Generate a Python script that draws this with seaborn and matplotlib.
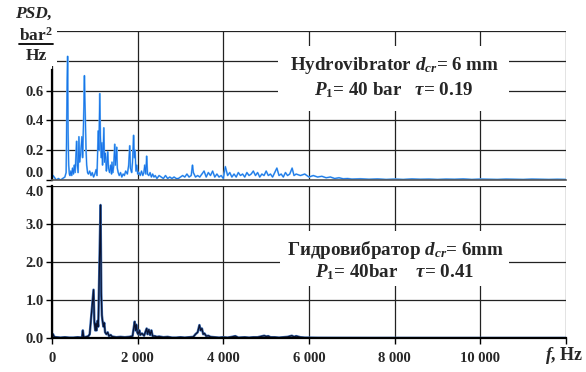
import matplotlib
matplotlib.use("Agg")
import matplotlib.pyplot as plt
import seaborn as sns
import pandas as pd
from matplotlib.lines import Line2D
from matplotlib.patches import Rectangle

# ---------------- data (frequency Hz, PSD bar^2/Hz) ----------------
top_points = [
    (0, 0.01), (25, 0.03), (50, 0.02), (75, 0.01), (100, 0.0), (150, 0.01), (200, 0.0),
    (250, 0.01), (300, 0.02), (330, 0.05), (355, 0.67), (365, 0.83), (375, 0.32), (390, 0.1),
    (405, 0.04), (420, 0.03), (440, 0.06), (460, 0.03), (480, 0.08), (500, 0.04), (520, 0.1),
    (540, 0.05), (575, 0.26), (590, 0.1), (610, 0.05), (628, 0.29), (645, 0.12), (670, 0.18),
    (698, 0.29), (715, 0.15), (745, 0.49), (757, 0.7), (768, 0.53), (780, 0.4), (795, 0.2),
    (810, 0.1), (830, 0.05), (850, 0.04), (880, 0.06), (910, 0.03), (940, 0.05), (970, 0.02),
    (1000, 0.04), (1030, 0.07), (1050, 0.03), (1080, 0.33), (1095, 0.2), (1115, 0.58),
    (1130, 0.3), (1150, 0.15), (1165, 0.25), (1180, 0.1), (1195, 0.2), (1210, 0.35),
    (1225, 0.12), (1240, 0.18), (1255, 0.15), (1270, 0.06), (1285, 0.1), (1300, 0.19),
    (1320, 0.08), (1345, 0.05), (1370, 0.1), (1390, 0.04), (1400, 0.12), (1420, 0.05),
    (1440, 0.09), (1465, 0.24), (1480, 0.1), (1495, 0.14), (1510, 0.22), (1525, 0.08),
    (1545, 0.05), (1570, 0.03), (1600, 0.05), (1630, 0.02), (1660, 0.04), (1690, 0.03),
    (1720, 0.06), (1760, 0.04), (1790, 0.1), (1815, 0.23), (1830, 0.08), (1860, 0.05),
    (1880, 0.12), (1905, 0.3), (1920, 0.15), (1940, 0.2), (1960, 0.06), (1980, 0.1),
    (2000, 0.04), (2030, 0.05), (2060, 0.03), (2090, 0.06), (2120, 0.03), (2145, 0.05),
    (2165, 0.1), (2190, 0.04), (2210, 0.16), (2230, 0.04), (2260, 0.03), (2290, 0.05),
    (2320, 0.02), (2350, 0.04), (2380, 0.02), (2410, 0.03), (2450, 0.01), (2500, 0.03),
    (2550, 0.02), (2600, 0.01), (2650, 0.03), (2700, 0.01), (2750, 0.02), (2800, 0.01),
    (2850, 0.02), (2900, 0.01), (2950, 0.01), (3000, 0.02), (3050, 0.03), (3100, 0.02),
    (3150, 0.04), (3200, 0.02), (3250, 0.03), (3280, 0.1), (3300, 0.05), (3350, 0.02),
    (3400, 0.03), (3450, 0.02), (3500, 0.04), (3550, 0.06), (3600, 0.02), (3650, 0.05),
    (3700, 0.03), (3750, 0.06), (3800, 0.02), (3850, 0.04), (3900, 0.02), (3950, 0.03),
    (4000, 0.01), (4047, 0.09), (4100, 0.03), (4150, 0.05), (4200, 0.02), (4250, 0.04),
    (4300, 0.02), (4350, 0.05), (4400, 0.03), (4450, 0.04), (4500, 0.02), (4550, 0.05),
    (4600, 0.03), (4650, 0.04), (4700, 0.06), (4750, 0.03), (4800, 0.05), (4850, 0.02),
    (4900, 0.04), (4950, 0.03), (5000, 0.06), (5050, 0.03), (5100, 0.04), (5150, 0.02),
    (5200, 0.05), (5250, 0.08), (5300, 0.03), (5350, 0.04), (5400, 0.02), (5450, 0.05),
    (5500, 0.03), (5550, 0.04), (5606, 0.08), (5650, 0.03), (5700, 0.04), (5800, 0.03),
    (5900, 0.04), (6000, 0.02), (6100, 0.03), (6200, 0.02), (6300, 0.025), (6400, 0.015),
    (6500, 0.02), (6600, 0.01), (6700, 0.015), (6800, 0.008), (6900, 0.01), (7000, 0.006),
    (7200, 0.008), (7400, 0.005), (7600, 0.007), (7800, 0.004), (8000, 0.006), (8200, 0.004),
    (8400, 0.007), (8600, 0.005), (8800, 0.006), (9000, 0.004), (9200, 0.006), (9400, 0.005),
    (9600, 0.007), (9800, 0.004), (10000, 0.006), (10200, 0.005), (10400, 0.004),
    (10600, 0.006), (10800, 0.005), (11000, 0.004), (11200, 0.006), (11400, 0.005),
    (11600, 0.004), (11800, 0.005), (12000, 0.004),
]

bot_points = [
    (0, 0.02), (23, 0.1), (50, 0.03), (100, 0.02), (200, 0.01), (300, 0.02), (400, 0.01),
    (500, 0.01), (600, 0.02), (700, 0.01), (720, 0.2), (740, 0.02), (800, 0.03), (850, 0.05),
    (880, 0.1), (970, 1.27), (990, 0.4), (1010, 0.2), (1025, 0.38), (1040, 0.2), (1060, 0.45),
    (1080, 0.3), (1133, 3.5), (1150, 1.2), (1165, 0.6), (1180, 0.45), (1200, 0.3), (1220, 0.4),
    (1240, 0.15), (1270, 0.1), (1300, 0.15), (1330, 0.05), (1370, 0.08), (1400, 0.04),
    (1450, 0.03), (1500, 0.02), (1600, 0.03), (1700, 0.02), (1800, 0.03), (1880, 0.05),
    (1930, 0.43), (1950, 0.2), (1970, 0.35), (1990, 0.15), (2010, 0.1), (2040, 0.2),
    (2060, 0.08), (2100, 0.12), (2150, 0.06), (2210, 0.25), (2230, 0.1), (2260, 0.22),
    (2290, 0.08), (2320, 0.2), (2350, 0.05), (2400, 0.05), (2450, 0.03), (2500, 0.04),
    (2600, 0.02), (2700, 0.03), (2800, 0.01), (2900, 0.01), (3000, 0.02), (3100, 0.01),
    (3200, 0.02), (3300, 0.03), (3350, 0.1), (3400, 0.15), (3442, 0.34), (3470, 0.2),
    (3500, 0.25), (3530, 0.1), (3560, 0.12), (3600, 0.05), (3650, 0.06), (3700, 0.03),
    (3800, 0.02), (3900, 0.01), (4000, 0.02), (4100, 0.01), (4200, 0.03), (4280, 0.05),
    (4350, 0.01), (4500, 0.02), (4600, 0.01), (4700, 0.02), (4800, 0.02), (4955, 0.06),
    (5000, 0.04), (5050, 0.05), (5100, 0.02), (5200, 0.02), (5300, 0.01), (5400, 0.02),
    (5500, 0.03), (5600, 0.06), (5650, 0.03), (5700, 0.05), (5800, 0.02), (5900, 0.01),
    (6000, 0.01), (6200, 0.005), (6500, 0.004), (7000, 0.003), (7500, 0.002), (8000, 0.002),
    (9000, 0.001), (10000, 0.001), (11000, 0.001), (12000, 0.001),
]

top_freq = [p[0] for p in top_points]
top_psd = [p[1] for p in top_points]
bot_freq = [p[0] for p in bot_points]
bot_psd = [p[1] for p in bot_points]

x_ticks = [0, 2000, 4000, 6000, 8000, 10000, 12000]
x_labels = ["0", "2 000", "4 000", "6 000", "8 000", "10 000", ""]
top_yticks = [0.0, 0.2, 0.4, 0.6, 0.8, 1.0]
top_ylabels = ["0.0", "0.2", "0.4", "0.6", "", ""]
bot_yticks = [0.0, 1.0, 2.0, 3.0, 4.0]
bot_ylabels = ["0.0", "1.0", "2.0", "3.0", "4.0"]

top_df = pd.DataFrame({"f": top_freq, "psd": top_psd})
bot_df = pd.DataFrame({"f": bot_freq, "psd": bot_psd})

# ---------------- style ----------------
sns.set_style("white")
plt.rcParams["font.family"] = ["Liberation Serif", "DejaVu Serif"]
plt.rcParams["font.weight"] = "bold"
plt.rcParams["mathtext.fontset"] = "custom"
plt.rcParams["mathtext.rm"] = "Liberation Serif:bold"
plt.rcParams["mathtext.it"] = "Liberation Serif:italic:bold"
plt.rcParams["mathtext.bf"] = "Liberation Serif:bold"

fig = plt.figure(figsize=(5.86, 3.72), dpi=100)
W, H = 586, 372
def fx(px): return px / W
def fy(py): return 1 - py / H

ax1 = fig.add_axes([fx(52), fy(180), fx(566) - fx(52), fy(31) - fy(180)])
ax2 = fig.add_axes([fx(52), fy(338), fx(566) - fx(52), fy(186) - fy(338)])

grid_kw = dict(color="#222222", linewidth=0.9)

for ax, yt, yl, ymax in [(ax1, top_yticks, top_ylabels, 1.0),
                         (ax2, bot_yticks, bot_ylabels, 4.0)]:
    ax.set_xlim(0, 12000)
    ax.set_ylim(0, ymax)
    ax.set_xticks(x_ticks)
    ax.set_yticks(yt)
    ax.set_yticklabels(yl, fontsize=10.5, fontweight="bold")
    ax.grid(True, **grid_kw)
    ax.set_axisbelow(True)
    for s in ["top", "right", "bottom", "left"]:
        ax.spines[s].set_visible(False)
    ax.tick_params(axis="y", direction="out", length=4, width=1, color="black", pad=2, left=True)

# top panel
sns.lineplot(data=top_df, x="f", y="psd", ax=ax1, color="#7cc0f5", linewidth=1.3,
             estimator=None, sort=False, legend=False)
sns.lineplot(data=top_df, x="f", y="psd", ax=ax1, color="#1a73e8", linewidth=0.7,
             estimator=None, sort=False, legend=False)
ax1.set_xlabel(""); ax1.set_ylabel("")
ax1.set_xticklabels([])
ax1.tick_params(axis="x", length=0)
ax1.spines["left"].set_visible(True)
ax1.spines["left"].set_color("black")
ax1.spines["left"].set_linewidth(1.6)
ax1.spines["left"].set_bounds(0, 0.74)
ax1.spines["bottom"].set_visible(True)
ax1.spines["bottom"].set_color("#555555")
ax1.spines["bottom"].set_linewidth(1.2)
ax1.get_yticklabels()[0].set_va("bottom")

# bottom panel
sns.lineplot(data=bot_df, x="f", y="psd", ax=ax2, color="#3f6fb5", linewidth=1.8,
             estimator=None, sort=False, legend=False)
sns.lineplot(data=bot_df, x="f", y="psd", ax=ax2, color="#0a1230", linewidth=0.9,
             estimator=None, sort=False, legend=False)
ax2.set_xlabel(""); ax2.set_ylabel("")
ax2.set_xticklabels(x_labels, fontsize=10.5, fontweight="bold")
ax2.tick_params(axis="x", direction="out", length=4, width=1, color="black", pad=6, bottom=True)
for s in ["left", "bottom"]:
    ax2.spines[s].set_visible(True)
    ax2.spines[s].set_color("black")
    ax2.spines[s].set_linewidth(1.6)
ax2.get_yticklabels()[-1].set_va("top")

# white boxes behind the annotations (figure pixel rectangles)
def white_box(x0, y0, x1, y1):
    fig.add_artist(Rectangle((fx(x0), fy(y1)), fx(x1) - fx(x0), fy(y0) - fy(y1),
                             transform=fig.transFigure, facecolor="white",
                             edgecolor="none", zorder=1))

white_box(278, 46, 509, 111)
white_box(280, 231, 509, 286)
white_box(0, 0, 57, 66)

txt_kw = dict(ha="center", va="center", fontsize=13.7, fontweight="bold", zorder=3)
fig.text(fx(395), fy(65), "Hydrovibrator $d_{cr}$= 6 mm", **txt_kw)
fig.text(fx(394), fy(90), "$P_{\\mathit{1}}$= 40 bar   $\\tau$= 0.19", **txt_kw)
fig.text(fx(396), fy(250), "Гидровибратор $d_{cr}$= 6mm", **txt_kw)
fig.text(fx(395), fy(272), "$P_{\\mathit{1}}$= 40bar    $\\tau$= 0.41", **txt_kw)

# y-axis label block
fig.text(fx(34), fy(14), "PSD,", ha="center", va="center", fontsize=12.5,
         fontweight="bold", fontstyle="italic", zorder=3)
fig.text(fx(36), fy(36), "bar$^{2}$", ha="center", va="center", fontsize=12.5,
         fontweight="bold", zorder=3)
fig.add_artist(Line2D([fx(19), fx(53)], [fy(44), fy(44)], color="black", linewidth=1.3, zorder=3))
fig.text(fx(36), fy(56), "Hz", ha="center", va="center", fontsize=12.5,
         fontweight="bold", zorder=3)

# x-axis label
fig.text(fx(564), fy(356), "$f$, Hz", ha="center", va="center", fontsize=13,
         fontweight="bold", zorder=3)

fig.savefig("out.png", dpi=100)
